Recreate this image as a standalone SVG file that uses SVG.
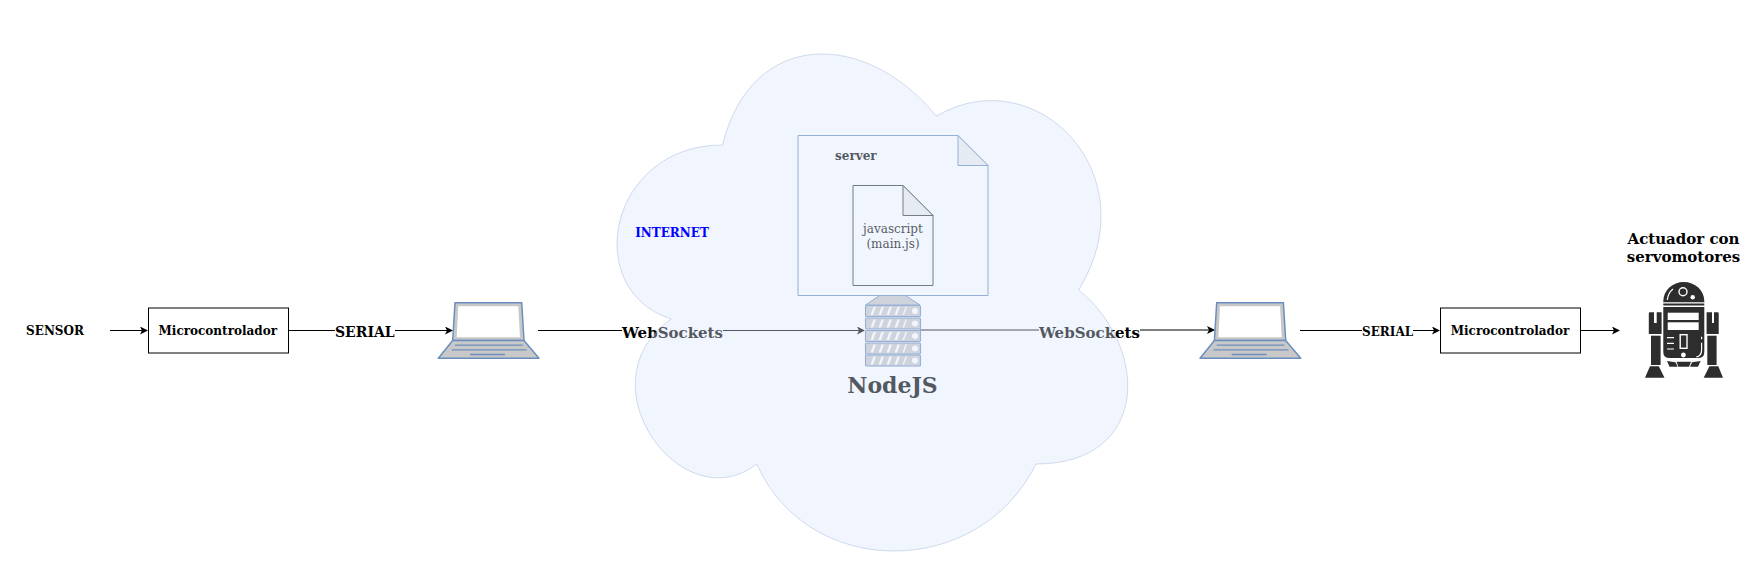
<svg xmlns="http://www.w3.org/2000/svg" xmlns:xlink="http://www.w3.org/1999/xlink" width="1749" height="581" viewBox="0 0 1749 581">
<style>
.t{font-family:"DejaVu Serif",serif;font-weight:bold;fill:#000}
.c{fill:none;stroke:#000;stroke-width:1;marker-end:url(#a)}
.box{fill:#fff;stroke:#000;stroke-width:1}
.lb{fill:#fff}
.doc{fill:#fff;stroke:#36393d;stroke-width:1}
.sdoc{fill:#fff;stroke:#6c8ebf;stroke-width:1}
.r{fill:#2d2d2d}
.rw{fill:#fff}
.rl{fill:none;stroke:#fff;stroke-width:1.200}
</style>
<defs>
<marker id="a" markerWidth="9" markerHeight="9" refX="7" refY="4" orient="auto" markerUnits="userSpaceOnUse"><path d="M0 0L8 4L0 8L2 4Z" fill="#000"/></marker>
<g id="laptop">
<path d="M16.700 0.300H83.400L85.700 38H14.400Z" fill="#c8c8c8" stroke="#6c8ebf" stroke-width="1.500"/>
<path d="M20 3.700H80L81.700 34.700H18.400Z" fill="#fff"/>
<path d="M14.400 38H85.700L100.700 55.700H0Z" fill="#c8c8c8" stroke="#6c8ebf" stroke-width="1.500" stroke-linejoin="round"/>
<path d="M16.700 42.700H84.400M13.400 47.300H88.400M31.700 52H66.700" stroke="#6c8ebf" stroke-width="1.300" fill="none"/>
</g>
<g id="unit">
<rect x="0" y="0" width="55" height="11" rx="1" fill="#c8c8c8" stroke="#6c8ebf" stroke-width="1.100"/>
<path d="M5 9.500L8 1.500H10.500L7.500 9.500ZM13 9.500L16 1.500H18.500L15.500 9.500ZM21 9.500L24 1.500H26.500L23.500 9.500ZM29 9.500L32 1.500H34.500L31.500 9.500ZM37 9.500L40 1.500H41.500L38.500 9.500Z" fill="#fff"/>
<circle cx="49.500" cy="5.500" r="3" fill="#fff"/>
</g>
</defs>
<rect width="1749" height="581" fill="#fff"/>
<g id="connectors">
<path class="c" d="M110 330.500H147"/>
<path class="c" d="M288.500 330.500H452"/>
<path class="c" d="M538 330.500H864"/>
<path class="c" d="M920 330H1214"/>
<path class="c" d="M1300 330.500H1439"/>
<path class="c" d="M1580.500 330.500H1619"/>
<rect class="lb" x="335" y="322" width="60" height="18"/>
<text class="t" x="335" y="337" font-size="14">SERIAL</text>
<rect class="lb" x="622" y="322" width="101" height="18"/>
<text class="t" x="622" y="337.500" font-size="15">WebSockets</text>
<rect class="lb" x="1039" y="322" width="101" height="18"/>
<text class="t" x="1039" y="337.500" font-size="15">WebSockets</text>
<rect class="lb" x="1362" y="322" width="51" height="18"/>
<text class="t" x="1362" y="335.500" font-size="12">SERIAL</text>
</g>
<g id="sensor"><text class="t" x="55" y="334.500" font-size="12" text-anchor="middle">SENSOR</text></g>
<g id="micro1"><rect class="box" x="148.500" y="308" width="140" height="45"/><text class="t" x="217.800" y="334.500" font-size="12" text-anchor="middle">Microcontrolador</text></g>
<use id="laptop1" xlink:href="#laptop" x="438.300" y="302.500"/>
<g id="server-doc">
<path class="sdoc" d="M798 135.500H958L988 165.500V295.500H798Z"/>
<path d="M958 135.500V165.500H988Z" fill="#eee" stroke="#6c8ebf"/>
<text class="t" x="835" y="160" font-size="12">server</text>
</g>
<g id="js-doc">
<path class="doc" d="M853 185.500H903L933 215.500V285.500H853Z"/>
<path d="M903 185.500V215.500H933Z" fill="#eee" stroke="#36393d"/>
<text x="893" y="233" font-family="DejaVu Serif,serif" font-size="12" text-anchor="middle" fill="#000">javascript</text>
<text x="893" y="248" font-family="DejaVu Serif,serif" font-size="12" text-anchor="middle" fill="#000">(main.js)</text>
</g>
<g id="nodejs">
<path d="M879.500 295.500H905.500L920 305H865.500Z" fill="#c8c8c8" stroke="#6c8ebf" stroke-width="1"/>
<use xlink:href="#unit" x="865.500" y="305.500"/>
<use xlink:href="#unit" x="865.500" y="318"/>
<use xlink:href="#unit" x="865.500" y="330.500"/>
<use xlink:href="#unit" x="865.500" y="343"/>
<use xlink:href="#unit" x="865.500" y="355"/>
<text class="t" x="892.500" y="392.500" font-size="22" text-anchor="middle">NodeJS</text>
</g>
<use id="laptop2" xlink:href="#laptop" x="1200" y="302.500"/>
<g id="micro2"><rect class="box" x="1440.500" y="308" width="140" height="45"/><text class="t" x="1510" y="334.500" font-size="12" text-anchor="middle">Microcontrolador</text></g>
<g id="actuator">
<text class="t" x="1683.500" y="244" font-size="15" text-anchor="middle">Actuador con</text>
<text class="t" x="1683.500" y="262" font-size="15" text-anchor="middle">servomotores</text>
<path class="r" d="M1663.300 302.300V301A20.500 19 0 0 1 1704.300 301V302.300Z"/>
<rect class="r" x="1663.300" y="303.500" width="41" height="2"/>
<path class="r" d="M1663.300 307H1704.300V352Q1704.300 358 1698 358H1669.500Q1663.300 358 1663.300 352Z"/>
<path class="r" d="M1667 361L1675.500 362.300L1677.700 366.700H1669.500Z"/>
<path class="r" d="M1676.600 361.700H1691L1689 366.700H1678.400Z"/>
<path class="r" d="M1700.600 361L1692 362.300L1690 366.700H1698Z"/>
<circle cx="1683" cy="291.700" r="4" fill="none" stroke="#fff" stroke-width="1.400"/>
<circle cx="1692.700" cy="297.300" r="2.200" class="rw"/>
<path class="rl" d="M1667.300 300Q1668 293 1673 289"/>
<rect class="rw" x="1667.700" y="312.700" width="31" height="7.300"/>
<rect class="rw" x="1667.700" y="322.300" width="31" height="7.700"/>
<path class="rl" d="M1667 337.700H1674M1667 343.300H1674M1667 349H1674"/>
<rect x="1680.200" y="334.700" width="6.800" height="13.600" fill="none" stroke="#fff" stroke-width="1.400"/>
<circle cx="1683.400" cy="355" r="2.400" class="rw"/>
<path class="rl" d="M1701.600 336.700V339.300M1701.600 342.700V350Q1701.600 356 1696.200 357"/>
<path class="r" d="M1648.800 313.500Q1648.800 312.300 1650 312.300H1654V323H1656.700V312.300H1661.600V334H1648.800Z"/>
<path class="r" d="M1706.600 312.300H1712V323H1714V312.300H1717.500Q1718.700 312.300 1718.700 313.500V334H1706.600Z"/>
<rect class="r" x="1651" y="335.700" width="9.600" height="29.300"/>
<rect class="r" x="1707.300" y="335.700" width="9.300" height="29.300"/>
<path class="r" d="M1650 366.300H1658.800L1664.500 377.700H1645Z"/>
<path class="r" d="M1709.400 366.300H1718.300L1723 377.700H1703.700Z"/>
</g>
<g id="cloud">
<path d="M722.500 145C608.500 145 580 290 671.200 319C580 382.800 682.600 522 756.700 464C808 580 979 580 1036 464C1150 464 1150 348 1078.750 290C1150 174 1036 58 936.250 116C865 29 751 29 722.500 145Z" fill="#dae8fc" fill-opacity="0.38" stroke="#6c8ebf" stroke-opacity="0.3"/>
<text class="t" x="672" y="237" font-size="12" text-anchor="middle" style="fill:#00f">INTERNET</text>
</g>
</svg>
